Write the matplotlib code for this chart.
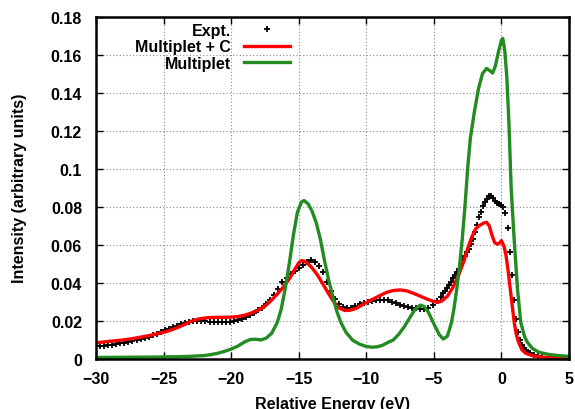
import matplotlib
matplotlib.use("Agg")
import matplotlib.pyplot as plt
from matplotlib.ticker import FormatStrFormatter, MultipleLocator

plt.rcParams['font.family'] = ['Liberation Sans', 'DejaVu Sans']
plt.rcParams['font.weight'] = 'bold'
plt.rcParams['font.size'] = 11.5

# experimental spectrum
expt_e = [-30.0, -29.7, -29.4, -29.1, -28.8, -28.5, -28.2, -27.9, -27.6, -27.3,
          -27.0, -26.7, -26.4, -26.1, -25.8, -25.5, -25.2, -24.9, -24.6, -24.3,
          -24.0, -23.7, -23.4, -23.1, -22.8, -22.5, -22.2, -21.9, -21.6, -21.3,
          -21.0, -20.7, -20.4, -20.1, -19.8, -19.5, -19.2, -18.9, -18.6, -18.3,
          -18.0, -17.7, -17.4, -17.1, -16.8, -16.5, -16.2, -15.9, -15.6, -15.3,
          -15.0, -14.7, -14.4, -14.1, -13.8, -13.5, -13.2, -12.9, -12.6, -12.3,
          -12.0, -11.7, -11.4, -11.1, -10.8, -10.5, -10.2, -9.9, -9.6, -9.3,
          -9.0, -8.7, -8.4, -8.1, -7.8, -7.5, -7.2, -6.9, -6.6, -6.3,
          -6.0, -5.7, -5.4, -5.1, -4.8, -4.5,
          -4.35, -4.2, -4.05, -3.9, -3.75, -3.6, -3.45, -3.3, -3.15, -3.0,
          -2.85, -2.7, -2.55, -2.4, -2.25, -2.1, -1.95, -1.8, -1.65, -1.5,
          -1.35, -1.2, -1.05, -0.9, -0.75, -0.6, -0.45, -0.3, -0.15, 0.0,
          0.15, 0.3, 0.45, 0.6, 0.75, 0.9, 1.05, 1.2, 1.35, 1.5,
          1.65, 1.8, 1.95, 2.1, 2.4, 2.7, 3.0]
expt_i = [0.0066, 0.0068, 0.0070, 0.0073, 0.0076, 0.0079, 0.0082, 0.0086, 0.0090, 0.0094,
          0.0099, 0.0104, 0.0110, 0.0117, 0.0124, 0.0132, 0.0141, 0.0151, 0.0160, 0.0168,
          0.0176, 0.0184, 0.0191, 0.0196, 0.0199, 0.0200, 0.0199, 0.0198, 0.0196, 0.0195,
          0.0194, 0.0193, 0.0193, 0.0194, 0.0198, 0.0204, 0.0211, 0.0220, 0.0230, 0.0242,
          0.0255, 0.0270, 0.0288, 0.0310, 0.0338, 0.0368, 0.0405, 0.0428, 0.0445, 0.0460,
          0.0478, 0.0495, 0.0512, 0.0520, 0.0512, 0.0490, 0.0455, 0.0405, 0.0355, 0.0315,
          0.0290, 0.0272, 0.0266, 0.0270, 0.0278, 0.0288, 0.0295, 0.0300, 0.0305, 0.0308,
          0.0311, 0.0312, 0.0309, 0.0302, 0.0292, 0.0285, 0.0279, 0.0274, 0.0270, 0.0266,
          0.0263, 0.0264, 0.0270, 0.0284, 0.0303, 0.0328,
          0.0345, 0.0360, 0.0375, 0.0390, 0.0405, 0.0425, 0.0440, 0.0458, 0.0475, 0.0495,
          0.0520, 0.0540, 0.0560, 0.0580, 0.0605, 0.0630, 0.0665, 0.0705, 0.0745, 0.0775,
          0.0805, 0.0825, 0.0842, 0.0855, 0.0856, 0.0845, 0.0832, 0.0820, 0.0812, 0.0808,
          0.0800, 0.0765, 0.0690, 0.0560, 0.0440, 0.0310, 0.0210, 0.0140, 0.0100, 0.0075,
          0.0058, 0.0045, 0.0036, 0.0030, 0.0020, 0.0015, 0.0012]

# multiplet + C
mc_e = [-30, -29, -28, -27.5, -27, -26, -25, -24.5, -24, -23.5, -23, -22.5, -22,
        -21.5, -21, -20.5, -20, -19.5, -19, -18.5, -18, -17.5, -17, -16.5, -16,
        -15.6, -15.3, -15.0, -14.8, -14.6, -14.3, -14.0, -13.6, -13.2, -12.8, -12.4,
        -12.0, -11.6, -11.2, -10.8, -10.4, -10.0, -9.5, -9.0, -8.5, -8.0, -7.5, -7.0,
        -6.5, -6.0, -5.5, -5.0, -4.7, -4.4, -4.0, -3.6, -3.2, -2.8, -2.5, -2.2, -1.9,
        -1.6, -1.3, -1.1, -0.9, -0.7, -0.5, -0.3, -0.1, 0.0, 0.2, 0.35, 0.5, 0.65,
        0.8, 0.95, 1.1, 1.25, 1.5, 1.8, 2.3, 3.0, 4.0, 5.0]
mc_i = [0.0085, 0.0093, 0.0100, 0.0105, 0.0111, 0.0124, 0.0140, 0.0151, 0.0164, 0.0180,
        0.0197, 0.0209, 0.0215, 0.0218, 0.0219, 0.0219, 0.0220, 0.0223, 0.0230, 0.0242,
        0.0256, 0.0278, 0.0310, 0.0348, 0.0390, 0.0432, 0.0470, 0.0505, 0.0517, 0.0515,
        0.0500, 0.0478, 0.0440, 0.0393, 0.0345, 0.0300, 0.0268, 0.0255, 0.0256, 0.0265,
        0.0280, 0.0297, 0.0315, 0.0333, 0.0350, 0.0360, 0.0363, 0.0358, 0.0345, 0.0330,
        0.0315, 0.0302, 0.0298, 0.0305, 0.0330, 0.0375, 0.0435, 0.0510, 0.0580, 0.0640,
        0.0685, 0.0703, 0.0715, 0.0718, 0.0700, 0.0650, 0.0612, 0.0603, 0.0612, 0.0622,
        0.0590, 0.0540, 0.0460, 0.0370, 0.0280, 0.0190, 0.0130, 0.0092, 0.0050, 0.0030,
        0.0017, 0.0010, 0.0006, 0.0004]

# multiplet only
m_e = [-30, -28, -26, -24, -23, -22, -21.5, -21, -20.5, -20, -19.5, -19.0, -18.6,
       -18.2, -17.8, -17.4, -17.0, -16.6, -16.3, -16.0, -15.7, -15.4, -15.1, -14.8,
       -14.6, -14.3, -14.0, -13.7, -13.4, -13.1, -12.8, -12.5, -12.2, -11.9, -11.5,
       -11.0, -10.5, -10.0, -9.6, -9.2, -8.8, -8.4, -8.0, -7.6, -7.2, -6.8, -6.4,
       -6.0, -5.7, -5.4, -5.0, -4.6, -4.3, -4.0, -3.7, -3.5, -3.3, -3.1, -2.9, -2.7,
       -2.5, -2.3, -2.0, -1.7, -1.4, -1.1, -0.85, -0.65, -0.45, -0.2, 0.0, 0.1, 0.25,
       0.4, 0.55, 0.72, 0.94, 1.19, 1.43, 1.7, 1.92, 2.3, 2.8, 3.5, 4.2, 5.0]
m_i = [0.0008, 0.0009, 0.0010, 0.0012, 0.0014, 0.0018, 0.0023, 0.0030, 0.0040, 0.0052,
       0.0068, 0.0090, 0.0102, 0.0104, 0.0100, 0.0110, 0.0135, 0.0190, 0.0260, 0.0370,
       0.0500, 0.0648, 0.0770, 0.0825, 0.0833, 0.0815, 0.0775, 0.0715, 0.0630, 0.0520,
       0.0420, 0.0335, 0.0255, 0.0195, 0.0140, 0.0098, 0.0078, 0.0066, 0.0062, 0.0064,
       0.0072, 0.0087, 0.0100, 0.0130, 0.0168, 0.0215, 0.0260, 0.0283, 0.0275, 0.0245,
       0.0185, 0.0128, 0.0105, 0.0120, 0.0190, 0.0270, 0.0370, 0.0490, 0.0630, 0.0800,
       0.1000, 0.1160, 0.1300, 0.1420, 0.1500, 0.1527, 0.1515, 0.1503, 0.1540, 0.1620,
       0.1675, 0.1685, 0.1620, 0.1480, 0.1250, 0.0900, 0.0630, 0.0368, 0.0193, 0.0120,
       0.0088, 0.0055, 0.0035, 0.0024, 0.0018, 0.0014]

fig = plt.figure(figsize=(5.75, 4.10), dpi=100)
ax = fig.add_axes([96 / 575, 1 - 360 / 410, 473 / 575, 342.5 / 410])

ax.plot(expt_e, expt_i, ls='none', marker='+', color='black', ms=4.5, mew=1.3, label='Expt.')
ax.plot(mc_e, mc_i, color='#ff0000', lw=2.4, label='Multiplet + C')
ax.plot(m_e, m_i, color='#228b22', lw=2.4, label='Multiplet')

ax.set_xlim(-30, 5)
ax.set_ylim(0, 0.18)
ax.xaxis.set_major_locator(MultipleLocator(5))
ax.yaxis.set_major_locator(MultipleLocator(0.02))
ax.yaxis.set_major_formatter(FormatStrFormatter('%g'))
ax.tick_params(direction='in', length=5, width=1, top=True, right=True, labelsize=11.5)
ax.tick_params(axis='x', pad=9)
ax.tick_params(axis='y', pad=10)
ax.grid(True, color='#888888', ls=(0, (1, 2)), lw=0.8)
ax.set_axisbelow(True)
for s in ax.spines.values():
    s.set_linewidth(1.8)

ax.set_xlabel('Relative Energy (eV)', fontweight='bold', labelpad=7)
ax.set_ylabel('Intensity (arbitrary units)', fontweight='bold', labelpad=17)

leg = ax.legend(loc='upper right', bbox_to_anchor=(0.41, 0.982), frameon=False,
                markerfirst=False, borderpad=0, borderaxespad=0, handlelength=2.9,
                handletextpad=0.8, labelspacing=0.1, numpoints=1)

fig.savefig('out.png', dpi=100)
